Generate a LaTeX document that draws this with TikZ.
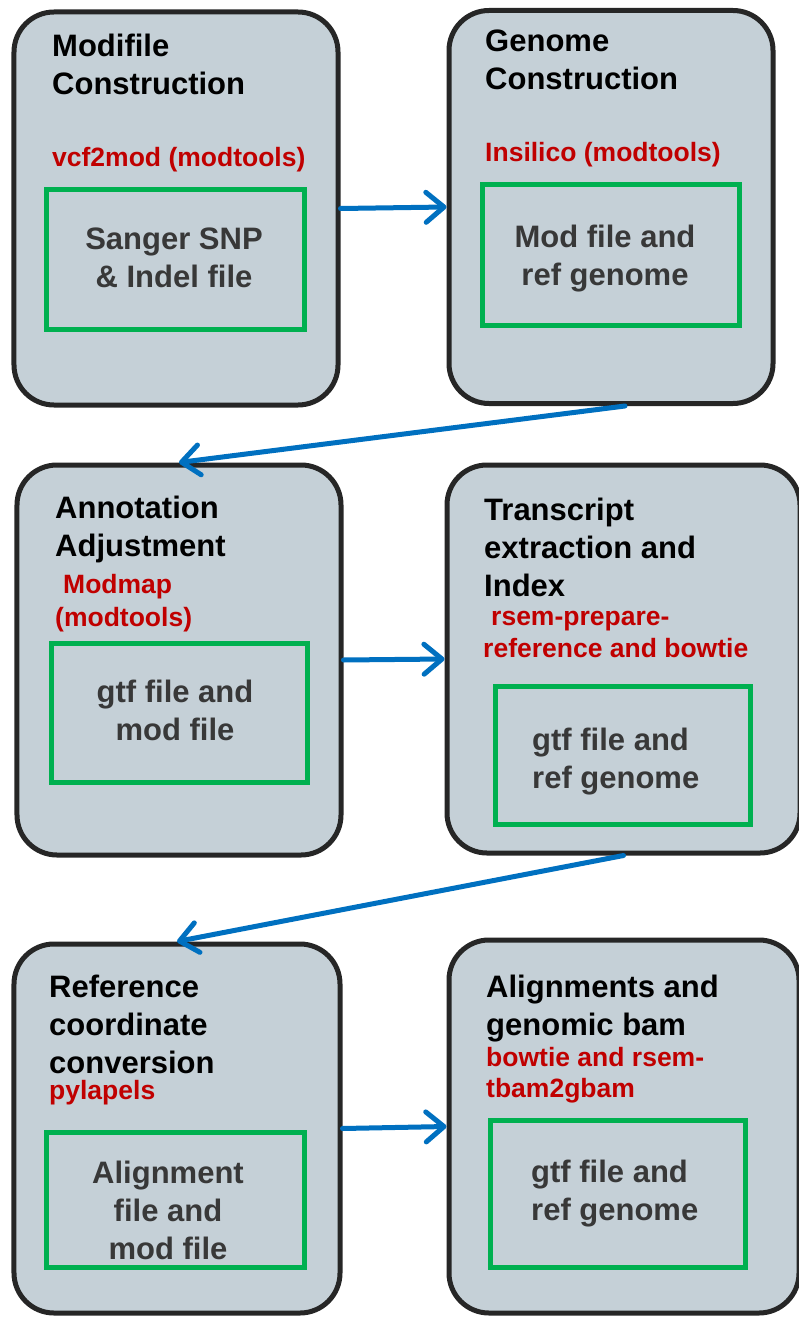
\documentclass[tikz,border=0pt]{standalone}
\usepackage{fontspec}
\setmainfont{Liberation Sans}
\usepackage{tikz}
\usetikzlibrary{arrows.meta,positioning}
\definecolor{boxgray}{RGB}{197,208,215}
\definecolor{boxline}{RGB}{38,38,38}
\definecolor{filegreen}{RGB}{0,176,80}
\definecolor{toolred}{RGB}{192,0,0}
\definecolor{flowblue}{RGB}{0,112,192}

\begin{document}
\begin{tikzpicture}[x=1bp,y=-1bp]

\tikzset{stepbox/.style={draw=boxline, fill=boxgray, line width=5bp, rounded corners=40bp, inner sep=0pt},
filebox/.style={draw=filegreen, line width=5bp, inner sep=0pt},
steptitle/.style={anchor=north west, inner sep=0pt, align=left, font=\fontsize{31bp}{38bp}\selectfont\bfseries},
tooltext/.style={anchor=north west, inner sep=0pt, align=left, text=toolred, font=\fontsize{26.5bp}{32bp}\selectfont\bfseries},
filetext/.style={anchor=north, inner sep=0pt, align=center, text=black!78, font=\fontsize{31bp}{38bp}\selectfont\bfseries},
flow/.style={draw=flowblue, line width=5bp, line cap=round, -{Straight Barb[length=18bp,width=30bp,round]}}}

\useasboundingbox (0,0) rectangle (798,1319);

% the six steps
\foreach \n/\x/\y/\w/\h in {modfile/176/208.5/324/393, genome/611/207/324/393, annot/179/660/324/390, transcript/623.5/659/353/388, refconv/177/1128.5/326/369, alignbam/624/1126.5/350/373}
  \node[stepbox, minimum width=\w bp, minimum height=\h bp] (\n) at (\x,\y) {};

% green file boxes
\foreach \n/\x/\y/\w/\h in {snpfile/175.5/259.5/258/140, modref/611/255/257/141, gtfmod/179.5/713/256/139, gtfref/623/755.5/255/138, alnmod/175.5/1200/258/135, gtfbam/618/1194/255/147}
  \node[filebox, minimum width=\w bp, minimum height=\h bp] (\n) at (\x,\y) {};

\node[steptitle] (modfiletitle) at (52,33.5) {Modifile\\Construction};
\node[tooltext] (modfiletool) at (52,147.5) {vcf2mod (modtools)};
\node[filetext] (snptext) at (174,227.5) {Sanger SNP\\\& Indel file};

\node[steptitle] (genometitle) at (485,29.5) {Genome\\Construction};
\node[tooltext] (genometool) at (485,142.5) {Insilico (modtools)};
\node[filetext] (modreftext) at (605,224.5) {Mod file and\\ref genome};

\node[steptitle] (annottitle) at (55,495.5) {Annotation\\Adjustment};
\node[tooltext, font=\fontsize{26.5bp}{33bp}\selectfont\bfseries] (annottool) at (55,574.5) {\hspace*{8bp}Modmap\\(modtools)};
\node[filetext] (gtfmodtext) at (175,679.5) {gtf file and\\mod file};

\node[steptitle] (transcripttitle) at (484,497.5) {Transcript\\extraction and\\Index};
\node[tooltext] (transcripttool) at (483,610.5) {\hspace*{8bp}rsem-prepare-\\reference and bowtie};
\node[filetext, anchor=north west, align=left] (gtfreftext) at (532,727.5) {gtf file and\\ref genome};

\node[steptitle] (refconvtitle) at (49,974.5) {Reference\\coordinate\\conversion};
\node[tooltext] (refconvtool) at (49,1080.5) {pylapels};
\node[filetext] (alnmodtext) at (168,1160.5) {Alignment\\file and\\mod file};

\node[steptitle] (alignbamtitle) at (486,974.5) {Alignments and\\genomic bam};
\node[tooltext, font=\fontsize{26.5bp}{31bp}\selectfont\bfseries] (alignbamtool) at (486,1047.5) {bowtie and rsem-\\tbam2gbam};
\node[filetext, anchor=north west, align=left] (gtfbamtext) at (531,1159.5) {gtf file and\\ref genome};

% flow between steps
\draw[flow] (modfile.east) -- (genome.west);
\draw[flow] ([xshift=14bp]genome.south) -- (annot.north);
\draw[flow] (annot.east) -- (transcript.west);
\draw[flow] (transcript.south) -- (refconv.north);
\draw[flow] (refconv.east) -- (alignbam.west);

\end{tikzpicture}
\end{document}
